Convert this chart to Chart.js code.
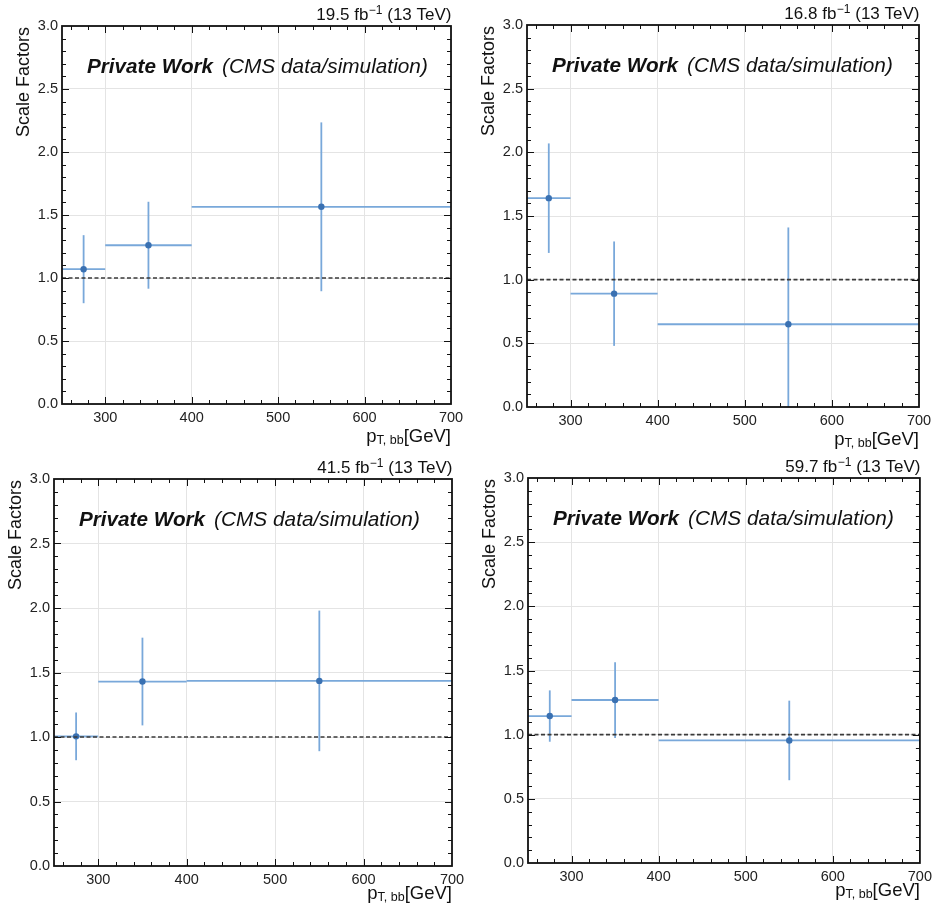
<!DOCTYPE html>
<html><head><meta charset="utf-8">
<script src="https://cdn.jsdelivr.net/npm/chart.js@4.4.1/dist/chart.umd.min.js"></script>
<style>
html,body{margin:0;padding:0;background:#fff;width:937px;height:912px;overflow:hidden;}
.p{position:absolute;}
</style></head><body>
<div class="p" id="c0"><canvas id="k0"></canvas></div>
<div class="p" id="c1"><canvas id="k1"></canvas></div>
<div class="p" id="c2"><canvas id="k2"></canvas></div>
<div class="p" id="c3"><canvas id="k3"></canvas></div>
<script>
// ---- data ----
const binEdges = [250, 300, 400, 700];
const binCenters = [275, 350, 550];
const xTickValues = [300, 400, 500, 600, 700];
const yTickValues = [0, 0.5, 1.0, 1.5, 2.0, 2.5, 3.0];
const lumiValues = ['19.5', '16.8', '41.5', '59.7'];
const referenceLevel = 1.0;

const sfPanel1 = [1.07, 1.26, 1.565];
const errPanel1 = [0.27, 0.345, 0.67];
const sfPanel2 = [1.64, 0.89, 0.65];
const errPanel2 = [0.43, 0.41, 0.76];
const sfPanel3 = [1.005, 1.43, 1.435];
const errPanel3 = [0.185, 0.34, 0.545];
const sfPanel4 = [1.145, 1.27, 0.955];
const errPanel4 = [0.20, 0.295, 0.31];

const panelValues = [sfPanel1, sfPanel2, sfPanel3, sfPanel4];
const panelErrors = [errPanel1, errPanel2, errPanel3, errPanel4];

// ---- layout (page pixels) ----
const regions = [
  {x:0,   y:0,   w:470, h:455, l:62,  t:26,  r:451, b:404, xt:38},
  {x:470, y:0,   w:467, h:455, l:527, t:25,  r:919, b:407, xt:38},
  {x:0,   y:455, w:470, h:457, l:54,  t:479, r:452, b:866, xt:33},
  {x:470, y:455, w:467, h:457, l:528, t:478, r:924, b:863, xt:33}
];

const FONT = "'Liberation Sans', Arial, Helvetica, sans-serif";
const LINE_COLOR = '#79a8da';
const MARK_COLOR = '#3a71b2';

const decor = {
  id: 'decor',
  afterDraw(chart, args, opts) {
    const ctx = chart.ctx, ca = chart.chartArea;
    const xs = chart.scales.x, ys = chart.scales.y;
    ctx.save();
    ctx.strokeStyle = '#111';
    ctx.lineWidth = 1;
    const xt = (v, len) => {
      const px = Math.round(xs.getPixelForValue(v)) + 0.5;
      ctx.beginPath();
      ctx.moveTo(px, ca.bottom); ctx.lineTo(px, ca.bottom - len);
      ctx.moveTo(px, ca.top); ctx.lineTo(px, ca.top + len);
      ctx.stroke();
    };
    for (let v = 260; v < 700; v += 20) xt(v, v % 100 === 0 ? 7 : 4);
    const yt = (v, len) => {
      const py = Math.round(ys.getPixelForValue(v)) + 0.5;
      ctx.beginPath();
      ctx.moveTo(ca.left, py); ctx.lineTo(ca.left + len, py);
      ctx.moveTo(ca.right, py); ctx.lineTo(ca.right - len, py);
      ctx.stroke();
    };
    for (let i = 1; i < 30; i++) yt(i / 10, i % 5 === 0 ? 7 : 4);
    ctx.lineWidth = 1.8;
    ctx.strokeStyle = '#111';
    ctx.strokeRect(ca.left, ca.top, ca.right - ca.left, ca.bottom - ca.top);

    ctx.fillStyle = '#111';
    ctx.textBaseline = 'alphabetic';
    // lumi label
    const base = ca.top - 6;
    const p1 = opts.lumi + ' fb', p2 = '\u22121', p3 = ' (13 TeV)';
    ctx.font = '17px ' + FONT;
    const w1 = ctx.measureText(p1).width, w3 = ctx.measureText(p3).width;
    ctx.font = '12px ' + FONT;
    const w2 = ctx.measureText(p2).width;
    let x0 = ca.right - (w1 + w2 + w3);
    ctx.textAlign = 'left';
    ctx.font = '17px ' + FONT;
    ctx.fillText(p1, x0, base);
    ctx.font = '12px ' + FONT;
    ctx.fillText(p2, x0 + w1 + 0.5, base - 6);
    ctx.font = '17px ' + FONT;
    ctx.fillText(p3, x0 + w1 + w2 + 0.5, base);

    // Private Work label
    const pwY = ca.top + 47;
    ctx.font = 'italic bold 20.7px ' + FONT;
    ctx.fillText('Private Work', ca.left + 25, pwY);
    const pww = ctx.measureText('Private Work').width;
    ctx.font = 'italic 20.8px ' + FONT;
    ctx.fillText('(CMS data/simulation)', ca.left + 25 + pww + 9, pwY);

    // y title
    ctx.save();
    ctx.translate(ca.left - 38, ca.top + 1);
    ctx.rotate(-Math.PI / 2);
    ctx.textAlign = 'right';
    ctx.textBaseline = 'middle';
    ctx.font = '18px ' + FONT;
    ctx.fillText('Scale Factors', 0, 0);
    ctx.restore();

    // x title
    const xb = ca.bottom + opts.xt;
    ctx.font = '18.5px ' + FONT;
    const g1 = ctx.measureText('[GeV]').width, g3 = ctx.measureText('p').width;
    ctx.font = '12.5px ' + FONT;
    const g2 = ctx.measureText('T, bb').width;
    let xx = ca.right - (g1 + g2 + g3);
    ctx.textAlign = 'left';
    ctx.font = '18.5px ' + FONT;
    ctx.fillText('p', xx, xb);
    ctx.font = '12.5px ' + FONT;
    ctx.fillText('T, bb', xx + g3, xb + 2);
    ctx.font = '18.5px ' + FONT;
    ctx.fillText('[GeV]', xx + g3 + g2, xb);
    ctx.restore();
  }
};

regions.forEach((R, k) => {
  const div = document.getElementById('c' + k);
  div.style.left = R.x + 'px'; div.style.top = R.y + 'px';
  div.style.width = R.w + 'px'; div.style.height = R.h + 'px';
  const vals = panelValues[k], errs = panelErrors[k];
  const datasets = [];
  datasets.push({
    data: [{x: binEdges[0], y: referenceLevel}, {x: binEdges[binEdges.length - 1], y: referenceLevel}],
    showLine: true, borderColor: '#3a3a3a', borderWidth: 1.7, borderDash: [4, 2.5],
    pointRadius: 0, order: 0
  });
  vals.forEach((v, i) => {
    datasets.push({
      data: [{x: binEdges[i], y: v}, {x: binEdges[i + 1], y: v}],
      showLine: true, borderColor: LINE_COLOR, borderWidth: 1.8, pointRadius: 0, order: 2
    });
    datasets.push({
      data: [{x: binCenters[i], y: v - errs[i]}, {x: binCenters[i], y: v + errs[i]}],
      showLine: true, borderColor: LINE_COLOR, borderWidth: 1.8, pointRadius: 0, order: 2
    });
  });
  datasets.push({
    data: binCenters.map((c, i) => ({x: c, y: vals[i]})),
    showLine: false, pointRadius: 3.2, pointBackgroundColor: MARK_COLOR,
    pointBorderColor: MARK_COLOR, pointBorderWidth: 0, order: 1
  });

  new Chart(document.getElementById('k' + k), {
    type: 'scatter',
    data: { datasets },
    options: {
      responsive: true, maintainAspectRatio: false, animation: false,
      events: [],
      layout: { padding: { left: 0, top: R.t - R.y, right: R.x + R.w - R.r, bottom: 0 } },
      plugins: { legend: { display: false }, tooltip: { enabled: false }, decor: { lumi: lumiValues[k], xt: R.xt } },
      scales: {
        x: {
          type: 'linear', min: binEdges[0], max: binEdges[binEdges.length - 1],
          afterBuildTicks: s => { s.ticks = xTickValues.map(v => ({value: v})); },
          afterFit: s => { s.height = R.y + R.h - R.b; },
          grid: { color: '#e4e4e4', lineWidth: 1, drawTicks: false },
          border: { display: false },
          ticks: { color: '#222', font: { family: FONT, size: 14.5 }, padding: 5, maxRotation: 0, autoSkip: false }
        },
        y: {
          type: 'linear', min: 0, max: 3,
          afterBuildTicks: s => { s.ticks = yTickValues.map(v => ({value: v})); },
          afterFit: s => { s.width = R.l - R.x; },
          grid: { color: '#e4e4e4', lineWidth: 1, drawTicks: false },
          border: { display: false },
          ticks: { color: '#222', font: { family: FONT, size: 14.5 }, padding: 4, autoSkip: false,
                   callback: v => Number(v).toFixed(1) }
        }
      }
    },
    plugins: [decor]
  });
});
</script>
</body></html>
